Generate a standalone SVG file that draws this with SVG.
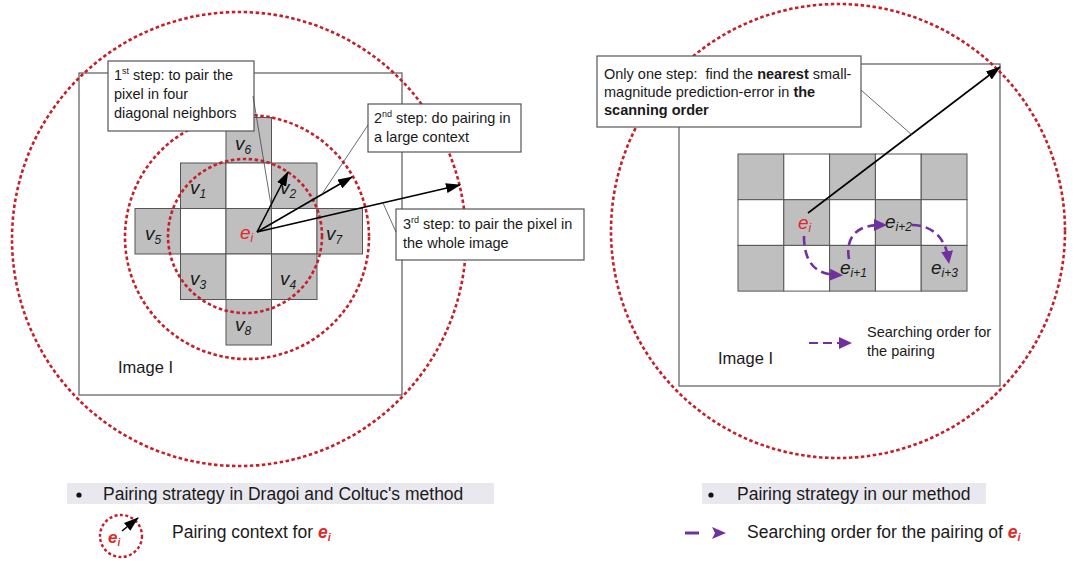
<svg xmlns="http://www.w3.org/2000/svg" width="1082" height="570" viewBox="0 0 1082 570">
<defs>
<style>
text{font-family:"Liberation Sans",Arial,sans-serif;fill:#1a1a1a}
.t{font-size:14.5px}
.lg{font-size:17.5px}
.img{font-size:16.5px}
.v{font-size:19px;font-style:italic}
.sub{font-size:12px;font-style:italic}
.red{fill:#e02a2a}
.frame{fill:none;stroke:#5a5a5a;stroke-width:1.2}
.box{fill:#fff;stroke:#555;stroke-width:1.2}
.g{fill:#bfbfbf;stroke:#555;stroke-width:1}
.w{fill:#fff;stroke:#555;stroke-width:1}
.dc{fill:none;stroke:#c4202c;stroke-width:2.6;stroke-dasharray:3.5 2.5}
.lead{stroke:#444;stroke-width:0.8;fill:none}
.arr{stroke:#000;stroke-width:1.6;fill:none;marker-end:url(#ah)}
.parr{stroke:#7030a0;stroke-width:2.6;fill:none;stroke-dasharray:9 5;marker-end:url(#ph)}
.bar{fill:#eae8ef}
</style>
<marker id="ah" markerUnits="userSpaceOnUse" markerWidth="15" markerHeight="10" refX="14" refY="5" orient="auto"><path d="M0,0 L15,5 L0,10 z" fill="#000"/></marker>
<marker id="ph" markerUnits="userSpaceOnUse" markerWidth="13" markerHeight="12" refX="6" refY="6" orient="auto"><path d="M0,0 L13,6 L0,12 z" fill="#7030a0"/></marker>
</defs>
<rect width="1082" height="570" fill="#fff"/>

<g id="left-image">
<rect class="frame" x="79" y="73" width="323" height="322"/>
<text class="img" x="118" y="373">Image I</text>
</g>

<g id="left-grid">
<rect class="g" x="226" y="117.5" width="45.5" height="45.5"/>
<rect class="g" x="180.5" y="163" width="45.5" height="45.5"/>
<rect class="w" x="226" y="163" width="45.5" height="45.5"/>
<rect class="g" x="271.5" y="163" width="45.5" height="45.5"/>
<rect class="g" x="135" y="208.5" width="45.5" height="45.5"/>
<rect class="w" x="180.5" y="208.5" width="45.5" height="45.5"/>
<rect class="g" x="226" y="208.5" width="45.5" height="45.5"/>
<rect class="w" x="271.5" y="208.5" width="45.5" height="45.5"/>
<rect class="g" x="317" y="208.5" width="45.5" height="45.5"/>
<rect class="g" x="180.5" y="254" width="45.5" height="45.5"/>
<rect class="w" x="226" y="254" width="45.5" height="45.5"/>
<rect class="g" x="271.5" y="254" width="45.5" height="45.5"/>
<rect class="g" x="226" y="299.5" width="45.5" height="45.5"/>
<text class="v" x="235" y="150">v<tspan class="sub" dy="4">6</tspan></text>
<text class="v" x="190" y="194">v<tspan class="sub" dy="4">1</tspan></text>
<text class="v" x="280" y="194">v<tspan class="sub" dy="4">2</tspan></text>
<text class="v" x="145" y="240">v<tspan class="sub" dy="4">5</tspan></text>
<text class="v" x="326" y="240">v<tspan class="sub" dy="4">7</tspan></text>
<text class="v" x="190" y="285">v<tspan class="sub" dy="4">3</tspan></text>
<text class="v" x="280" y="285">v<tspan class="sub" dy="4">4</tspan></text>
<text class="v" x="235" y="331">v<tspan class="sub" dy="4">8</tspan></text>
<text class="v red" x="240" y="239">e<tspan class="sub red" dy="3">i</tspan></text>
</g>

<g id="left-circles">
<circle class="dc" cx="245" cy="236" r="77"/>
<circle class="dc" cx="247" cy="237" r="122"/>
<circle class="dc" cx="239" cy="239" r="227"/>
</g>

<g id="box-step1">
<rect class="box" x="108" y="61" width="146" height="70"/>
<text class="t" x="114" y="80">1<tspan font-size="9" dy="-6">st</tspan><tspan dy="6"> step: to pair the</tspan></text>
<text class="t" x="114" y="99">pixel in four</text>
<text class="t" x="114" y="118">diagonal neighbors</text>
</g>

<g id="box-step2">
<rect class="box" x="368" y="104" width="153" height="48"/>
<text class="t" x="374" y="123">2<tspan font-size="9" dy="-6">nd</tspan><tspan dy="6"> step: do pairing in</tspan></text>
<text class="t" x="374" y="142">a large context</text>
</g>

<g id="box-step3">
<rect class="box" x="396" y="209" width="188" height="51"/>
<text class="t" x="403" y="229">3<tspan font-size="9" dy="-6">rd</tspan><tspan dy="6"> step: to pair the pixel in</tspan></text>
<text class="t" x="403" y="248">the whole image</text>
</g>

<g id="right-image">
<rect class="frame" x="679" y="64" width="321" height="322"/>
<text class="img" x="718" y="364">Image I</text>
<text class="t" x="867" y="337">Searching order for</text>
<text class="t" x="867" y="356">the pairing</text>
</g>

<g id="right-grid">
<rect class="g" x="738" y="154" width="45.8" height="45.7"/>
<rect class="w" x="783.8" y="154" width="45.8" height="45.7"/>
<rect class="g" x="829.6" y="154" width="45.8" height="45.7"/>
<rect class="w" x="875.4" y="154" width="45.8" height="45.7"/>
<rect class="g" x="921.2" y="154" width="45.8" height="45.7"/>
<rect class="w" x="738" y="199.7" width="45.8" height="45.7"/>
<rect class="g" x="783.8" y="199.7" width="45.8" height="45.7"/>
<rect class="w" x="829.6" y="199.7" width="45.8" height="45.7"/>
<rect class="g" x="875.4" y="199.7" width="45.8" height="45.7"/>
<rect class="w" x="921.2" y="199.7" width="45.8" height="45.7"/>
<rect class="g" x="738" y="245.4" width="45.8" height="45.7"/>
<rect class="w" x="783.8" y="245.4" width="45.8" height="45.7"/>
<rect class="g" x="829.6" y="245.4" width="45.8" height="45.7"/>
<rect class="w" x="875.4" y="245.4" width="45.8" height="45.7"/>
<rect class="g" x="921.2" y="245.4" width="45.8" height="45.7"/>
<text class="v red" x="798" y="229">e<tspan class="sub red" dy="3">i</tspan></text>
<text class="v" x="840" y="274">e<tspan class="sub" dy="3">i+1</tspan></text>
<text class="v" x="885" y="228">e<tspan class="sub" dy="3">i+2</tspan></text>
<text class="v" x="931" y="274">e<tspan class="sub" dy="3">i+3</tspan></text>
</g>

<g id="right-circle">
<circle class="dc" cx="838" cy="231" r="227"/>
</g>

<g id="box-onestep">
<rect class="box" x="597" y="56" width="264" height="71"/>
<text class="t" x="604" y="79">Only one step:&#160; find the <tspan font-weight="bold">nearest</tspan> small-</text>
<text class="t" x="604" y="97">magnitude prediction-error in <tspan font-weight="bold">the</tspan></text>
<text class="t" x="604" y="115" font-weight="bold">scanning order</text>
</g>

<g id="connectors">
<line class="arr" x1="257" y1="232" x2="288" y2="172"/>
<line class="arr" x1="257" y1="232" x2="352" y2="177"/>
<line class="arr" x1="257" y1="232" x2="460" y2="185"/>
<line class="lead" x1="253" y1="96" x2="271" y2="205"/>
<line class="lead" x1="368" y1="125" x2="322" y2="194"/>
<line class="lead" x1="383" y1="203" x2="396" y2="232"/>
<line class="arr" x1="808" y1="213" x2="1000" y2="67"/>
<line class="lead" x1="861" y1="90" x2="912" y2="135"/>
<path class="parr" d="M804,236 C804,262 815,274 836,275"/>
<path class="parr" d="M849,259 C845,236 858,225 880,225"/>
<path class="parr" d="M912,225 C932,225 945,238 948,257"/>
<line class="parr" x1="809" y1="343" x2="845" y2="343" style="stroke-width:2"/>
</g>

<g id="legend-left">
<rect class="bar" x="67" y="483" width="427" height="21"/>
<circle cx="79" cy="495" r="2.6" fill="#111"/>
<text class="lg" x="103" y="500">Pairing strategy in Dragoi and Coltuc's method</text>
<circle cx="121" cy="536" r="21" fill="none" stroke="#c4202c" stroke-width="2.4" stroke-dasharray="3 2.4"/>
<line x1="122" y1="531" x2="138" y2="518" stroke="#000" stroke-width="1.6" marker-end="url(#ah)"/>
<text x="108" y="543" font-size="17px" font-weight="bold" font-style="italic" class="red">e<tspan font-size="10px" dy="3">i</tspan></text>
<text class="lg" x="172" y="538">Pairing context for <tspan class="red" font-weight="bold" font-style="italic">e</tspan><tspan class="red" font-weight="bold" font-style="italic" font-size="11px" dy="3">i</tspan></text>
</g>

<g id="legend-right">
<rect class="bar" x="702" y="483" width="284" height="21"/>
<circle cx="711" cy="495" r="2.6" fill="#111"/>
<text class="lg" x="737" y="500">Pairing strategy in our method</text>
<line x1="685" y1="533" x2="699" y2="533" stroke="#7030a0" stroke-width="3"/>
<path d="M712,527 L726,533 L712,539 L715,533 z" fill="#7030a0"/>
<text class="lg" x="747" y="538">Searching order for the pairing of <tspan class="red" font-weight="bold" font-style="italic">e</tspan><tspan class="red" font-weight="bold" font-style="italic" font-size="11px" dy="3">i</tspan></text>
</g>
</svg>
